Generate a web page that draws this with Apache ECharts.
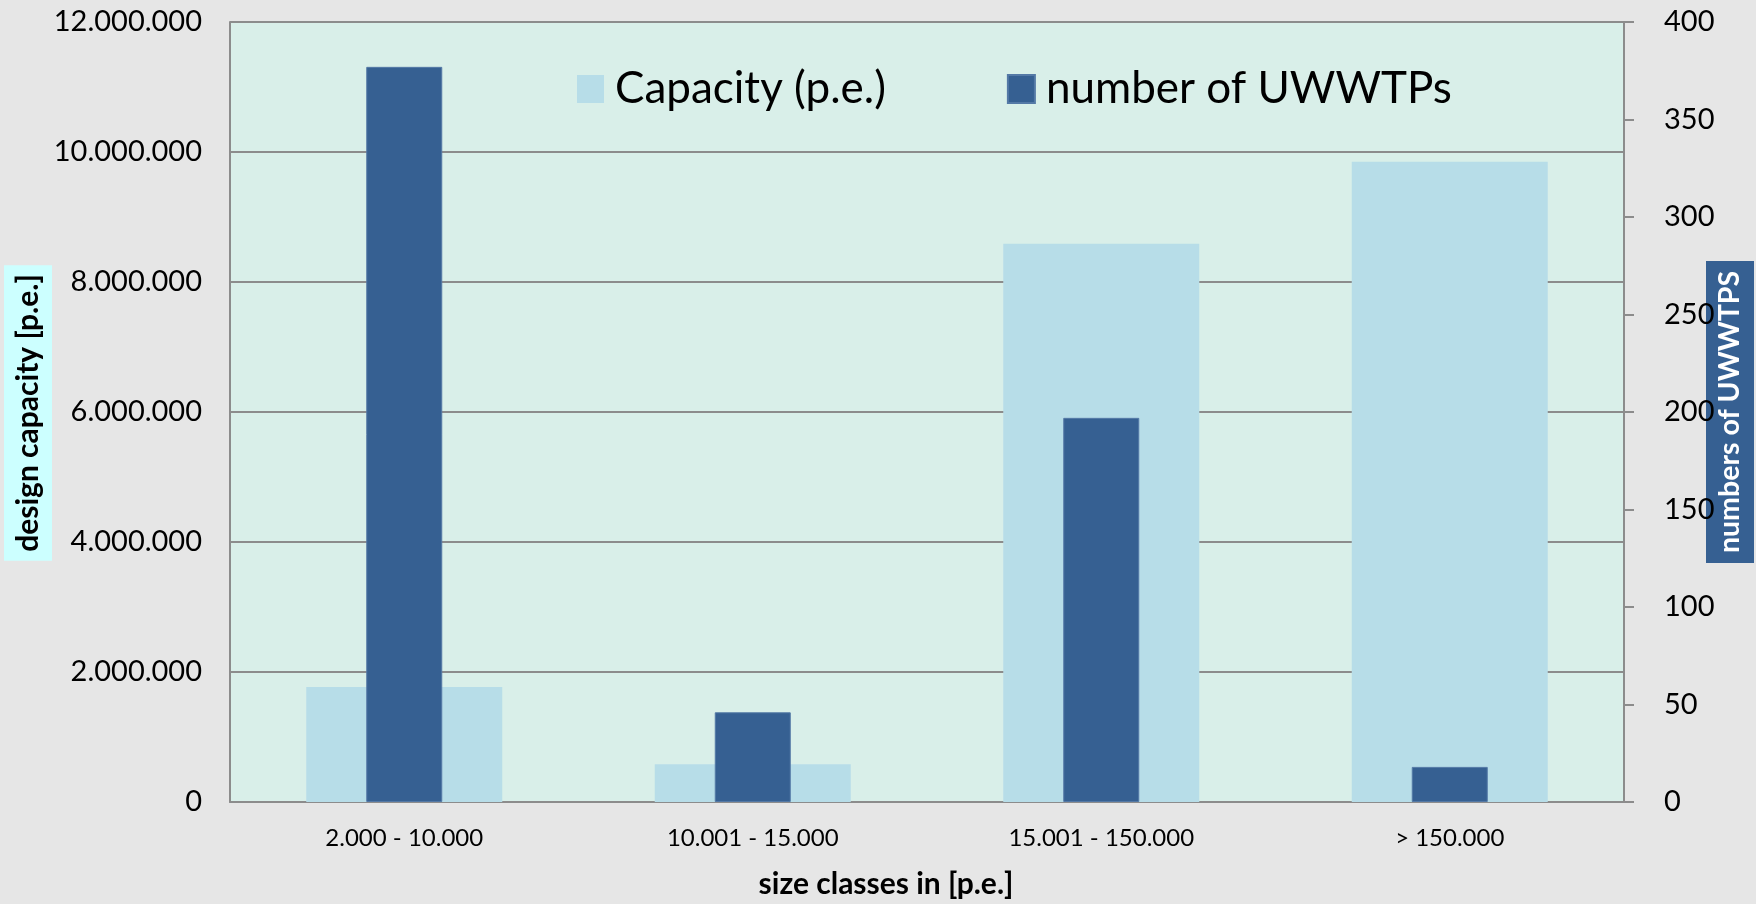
<!DOCTYPE html>
<html>
<head>
<meta charset="utf-8">
<script src="https://cdn.jsdelivr.net/npm/echarts@6/dist/echarts.min.js"></script>
<style>
  html, body { margin: 0; padding: 0; background: #E6E6E6; }
  #chart { width: 1756px; height: 904px; }
</style>
</head>
<body>
<div id="chart"></div>
<script>
// Size classes of urban waste water treatment plants
const categories = ['2.000 - 10.000', '10.001 - 15.000', '15.001 - 150.000', '> 150.000'];
// Design capacity per size class (p.e.)
const capacity = [1770000, 580000, 8590000, 9850000];
// Number of UWWTPs per size class
const plantCount = [377, 46, 197, 18];

const seriesNames = ['Capacity (p.e.)', 'number of UWWTPs'];
const leftAxisTitle = 'design capacity [p.e.]';
const rightAxisTitle = 'numbers of UWWTPS';
const xAxisTitle = 'size classes in [p.e.]';

const FONT = 'Lato, "Open Sans", sans-serif';
const GRID_GREY = '#8C8C8C';

function dotThousands(v) {
  return String(Math.round(v)).replace(/\B(?=(\d{3})+(?!\d))/g, '.');
}

const chart = echarts.init(document.getElementById('chart'), null, { renderer: 'canvas' });

chart.setOption({
  backgroundColor: '#E6E6E6',
  animation: false,
  textStyle: { fontFamily: FONT, color: '#000' },
  grid: {
    left: 230, top: 22, width: 1394, height: 780,
    show: true, backgroundColor: '#D9EFE9', borderWidth: 0,
    containLabel: false
  },
  legend: {
    left: 572, top: 62,
    itemWidth: 27, itemHeight: 28, itemGap: 121,
    icon: 'rect',
    selectedMode: false,
    textStyle: { fontFamily: FONT, fontSize: 44, color: '#000', padding: [0, 0, 0, 6] },
    data: seriesNames
  },
  xAxis: [
    {
      type: 'category', data: categories, gridIndex: 0,
      axisLine: { show: true, lineStyle: { color: GRID_GREY, width: 2 } },
      axisTick: { show: false },
      axisLabel: { fontFamily: FONT, fontSize: 24, color: '#000', margin: 24 },
      splitLine: { show: false }
    },
    {
      type: 'category', data: categories, gridIndex: 0, show: false
    }
  ],
  yAxis: [
    {
      type: 'value', min: 0, max: 12000000, interval: 2000000,
      axisLine: { show: true, lineStyle: { color: GRID_GREY, width: 2 } },
      axisTick: { show: false },
      axisLabel: { fontFamily: FONT, fontSize: 29, color: '#000', margin: 28, formatter: dotThousands },
      splitLine: { show: true, lineStyle: { color: GRID_GREY, width: 2 } }
    },
    {
      type: 'value', min: 0, max: 400, interval: 50, position: 'right',
      axisLine: { show: true, lineStyle: { color: GRID_GREY, width: 2 } },
      axisTick: { show: true, inside: false, length: 10, lineStyle: { color: GRID_GREY, width: 2 } },
      axisLabel: { fontFamily: FONT, fontSize: 29, color: '#000', margin: 40 },
      splitLine: { show: false }
    }
  ],
  series: [
    {
      name: seriesNames[0], type: 'bar',
      xAxisIndex: 0, yAxisIndex: 0,
      barWidth: 196,
      itemStyle: { color: '#B7DDE8' },
      data: capacity,
      z: 2
    },
    {
      name: seriesNames[1], type: 'bar',
      xAxisIndex: 1, yAxisIndex: 1,
      barWidth: 76,
      itemStyle: { color: '#366092', borderColor: '#5479A6', borderWidth: 1 },
      data: plantCount,
      z: 3
    }
  ],
  graphic: [
    {
      type: 'text',
      x: 28, y: 413, rotation: Math.PI / 2,
      style: {
        text: leftAxisTitle,
        fontFamily: FONT, fontSize: 30, fontWeight: 'bold', fill: '#000',
        lineHeight: 30,
        align: 'center', verticalAlign: 'middle',
        backgroundColor: '#CCFFFF', padding: [9, 9, 9, 9]
      }
    },
    {
      type: 'text',
      x: 1730, y: 412, rotation: Math.PI / 2,
      style: {
        text: rightAxisTitle,
        fontFamily: FONT, fontSize: 28.5, fontWeight: 'bold', fill: '#fff',
        lineHeight: 30,
        align: 'center', verticalAlign: 'middle',
        backgroundColor: '#366092', padding: [9, 10, 9, 10]
      }
    },
    {
      type: 'text',
      x: 886, y: 884,
      style: {
        text: xAxisTitle,
        fontFamily: FONT, fontSize: 30, fontWeight: 'bold', fill: '#000',
        align: 'center', verticalAlign: 'middle'
      }
    }
  ]
});
</script>
</body>
</html>
